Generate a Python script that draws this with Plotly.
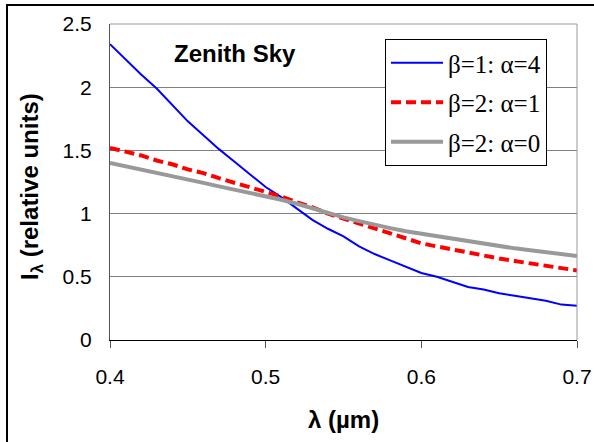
import plotly.graph_objects as go

wavelength = [0.40, 0.41, 0.42, 0.43, 0.44, 0.45, 0.46, 0.47, 0.48, 0.49, 0.50,
              0.51, 0.52, 0.53, 0.54, 0.55, 0.56, 0.57, 0.58, 0.59, 0.60,
              0.61, 0.62, 0.63, 0.64, 0.65, 0.66, 0.67, 0.68, 0.69, 0.70]

beta1_alpha4 = [2.34, 2.22, 2.10, 1.99, 1.86, 1.73, 1.62, 1.51, 1.41, 1.31, 1.21,
                1.13, 1.04, 0.95, 0.88, 0.82, 0.74, 0.68, 0.63, 0.58, 0.53,
                0.50, 0.46, 0.42, 0.40, 0.37, 0.35, 0.33, 0.31, 0.28, 0.27]

beta2_alpha1 = [1.52, 1.49, 1.46, 1.42, 1.39, 1.35, 1.32, 1.28, 1.245, 1.21, 1.175,
                1.135, 1.09, 1.05, 1.00, 0.96, 0.92, 0.88, 0.84, 0.80, 0.765,
                0.74, 0.715, 0.69, 0.665, 0.645, 0.625, 0.605, 0.59, 0.57, 0.55]

beta2_alpha0 = [1.40, 1.375, 1.35, 1.32, 1.295, 1.27, 1.243, 1.215, 1.19, 1.16, 1.135,
                1.11, 1.078, 1.04, 1.005, 0.97, 0.94, 0.91, 0.885, 0.86, 0.84,
                0.82, 0.80, 0.78, 0.76, 0.74, 0.725, 0.71, 0.695, 0.675, 0.665]

series_names = ["β=1: α=4", "β=2: α=1", "β=2: α=0"]
x_ticks = [0.4, 0.5, 0.6, 0.7]
x_tick_labels = ["0.4", "0.5", "0.6", "0.7"]
y_ticks = [0, 0.5, 1, 1.5, 2, 2.5]
y_tick_labels = ["0", "0.5", "1", "1.5", "2", "2.5"]

fig = go.Figure()
fig.add_trace(go.Scatter(x=wavelength, y=beta1_alpha4, mode="lines", name=series_names[0],
                         legendgroup="a", line=dict(color="#0000ff", width=2)))
fig.add_trace(go.Scatter(x=wavelength, y=beta2_alpha1, mode="lines", name=series_names[1],
                         legendgroup="b", line=dict(color="#ff0000", width=4, dash="10px,5px")))
fig.add_trace(go.Scatter(x=wavelength, y=beta2_alpha0, mode="lines", name=series_names[2],
                         legendgroup="c", line=dict(color="#999999", width=4)))

W, H = 594, 442
L, R, T, B = 110, 17, 24, 102
pw, ph = W - L - R, H - T - B

def px_x(px):
    return (px - L) / pw

def px_y(py):
    return (H - B - py) / ph

fig.update_layout(
    width=W, height=H,
    margin=dict(l=L, r=R, t=T, b=B, autoexpand=False),
    paper_bgcolor="white", plot_bgcolor="white",
    font=dict(family="Liberation Sans, Arial, sans-serif", size=21, color="black"),
    showlegend=True,
    legend=dict(x=px_x(385), y=px_y(39), xanchor="left", yanchor="top",
                bgcolor="white", bordercolor="black", borderwidth=1,
                font=dict(family="Liberation Serif, Times New Roman, serif", size=25, color="black"),
                traceorder="grouped", tracegroupgap=4, itemwidth=52),
    xaxis=dict(range=[0.4, 0.7], tickvals=x_ticks, ticktext=x_tick_labels,
               showgrid=False, zeroline=False, showline=True, linecolor="black", linewidth=1,
               ticks="outside", ticklen=7, tickcolor="#555555", ticklabelstandoff=11,
               tickfont=dict(size=21)),
    yaxis=dict(range=[0, 2.5], tickvals=y_ticks, ticktext=y_tick_labels,
               showgrid=True, gridcolor="#808080", gridwidth=1, zeroline=False,
               showline=True, linecolor="#555555", linewidth=1, ticks="",
               ticklabelstandoff=13, tickfont=dict(size=21)),
    shapes=[
        dict(type="line", xref="paper", yref="paper", x0=0, x1=1, y0=1, y1=1,
             line=dict(color="#999999", width=1)),
        dict(type="line", xref="paper", yref="paper", x0=1, x1=1, y0=0, y1=1,
             line=dict(color="#999999", width=1)),
        dict(type="rect", xref="paper", yref="paper",
             x0=px_x(7), x1=px_x(605), y0=px_y(455), y1=px_y(5),
             line=dict(color="black", width=2), fillcolor="rgba(0,0,0,0)"),
    ],
    annotations=[
        dict(text="<b>Zenith Sky</b>", xref="paper", yref="paper",
             x=px_x(235), y=px_y(53), xanchor="center", yanchor="middle",
             showarrow=False, font=dict(size=24, color="black")),
        dict(text="<b>λ (µm)</b>", xref="paper", yref="paper",
             x=px_x(343), y=px_y(419), xanchor="center", yanchor="middle",
             showarrow=False, font=dict(size=24, color="black")),
        dict(text="<b>I<sub>λ</sub> (relative units)</b>", xref="paper", yref="paper",
             x=px_x(31), y=px_y(187), xanchor="center", yanchor="middle",
             textangle=-90, showarrow=False, font=dict(size=24, color="black")),
    ],
)

fig.write_html("out.html", config={"displayModeBar": False},
               post_script="document.body.style.margin='0';document.body.style.overflow='hidden';")
